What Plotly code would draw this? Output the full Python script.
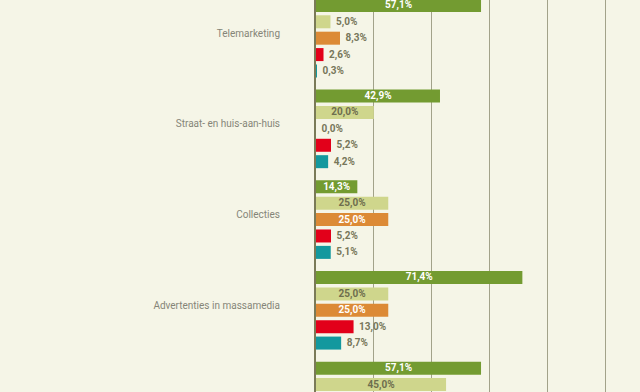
import plotly.graph_objects as go

categories = ["Telemarketing", "Straat- en huis-aan-huis", "Collecties",
              "Advertenties in massamedia", ""]
series_names = ["Reeks A", "Reeks B", "Reeks C", "Reeks D", "Reeks E"]
s_a = [57.1, 42.9, 14.3, 71.4, 57.1]
s_b = [5.0, 20.0, 25.0, 25.0, 45.0]
s_c = [8.3, 0.0, 25.0, 25.0, None]
s_d = [2.6, 5.2, 5.2, 13.0, None]
s_e = [0.3, 4.2, 5.1, 8.7, None]
x_ticks = [0, 20, 40, 60, 80, 100]

values = [s_a, s_b, s_c, s_d, s_e]
colors = ["#739b31", "#cfd68c", "#dc8a36", "#e2001a", "#13989e"]
inside_font_colors = ["#ffffff", "#6e6e4e", "#ffffff", "#ffffff", "#ffffff"]
outside_color = "#77775a"
# which values are labelled inside the bar (as in the reference)
inside_rule = [lambda v: True,
               lambda v: v >= 15,
               lambda v: v >= 15,
               lambda v: False,
               lambda v: False]

ypos = list(range(len(categories)))
VAL_FONT = "Roboto"
NBSP = "\u00a0"

fig = go.Figure()
for name, vals, col, ifc, rule in zip(series_names, values, colors,
                                      inside_font_colors, inside_rule):
    pos = [("inside" if (v is not None and rule(v)) else "outside") for v in vals]
    tmpl = ["%{x:.1f}%" if p == "inside" else NBSP + "%{x:.1f}%" for p in pos]
    fig.add_trace(go.Bar(
        y=ypos, x=vals, orientation="h", name=name,
        marker=dict(color=col, line=dict(width=0)),
        texttemplate=tmpl, textposition=pos,
        insidetextanchor="middle",
        insidetextfont=dict(color=ifc, size=10, family=VAL_FONT, weight="bold"),
        outsidetextfont=dict(color=outside_color, size=10, family=VAL_FONT,
                             weight="bold"),
        textfont=dict(size=10, family=VAL_FONT, weight="bold"),
        cliponaxis=False, constraintext="none",
        hoverinfo="skip", showlegend=False,
    ))

fig.update_layout(
    width=640, height=392,
    margin=dict(l=316, r=0, t=0, b=0),
    paper_bgcolor="#f5f5e7", plot_bgcolor="#f5f5e7",
    barmode="group", bargap=0.096, bargroupgap=0.207,
    separators=",.",
    showlegend=False,
)
fig.update_xaxes(range=[0, 112.1], tickvals=x_ticks, showticklabels=False,
                 showgrid=True, gridcolor="#a2a28a", gridwidth=1,
                 zeroline=False, showline=False, fixedrange=True)
fig.update_yaxes(range=[3.901, -0.421], tickvals=ypos, ticktext=categories,
                 showgrid=False, zeroline=False, showline=True,
                 linecolor="#7a7a58", linewidth=2, ticks="",
                 ticklabelstandoff=32, ticklabelshift=5,
                 tickfont=dict(family="Roboto", size=10, color="#858578"),
                 fixedrange=True)

fig.write_html("out.html", config={"displayModeBar": False},
               post_script="document.body.style.margin='0';"
                           "document.body.style.overflow='hidden';")
